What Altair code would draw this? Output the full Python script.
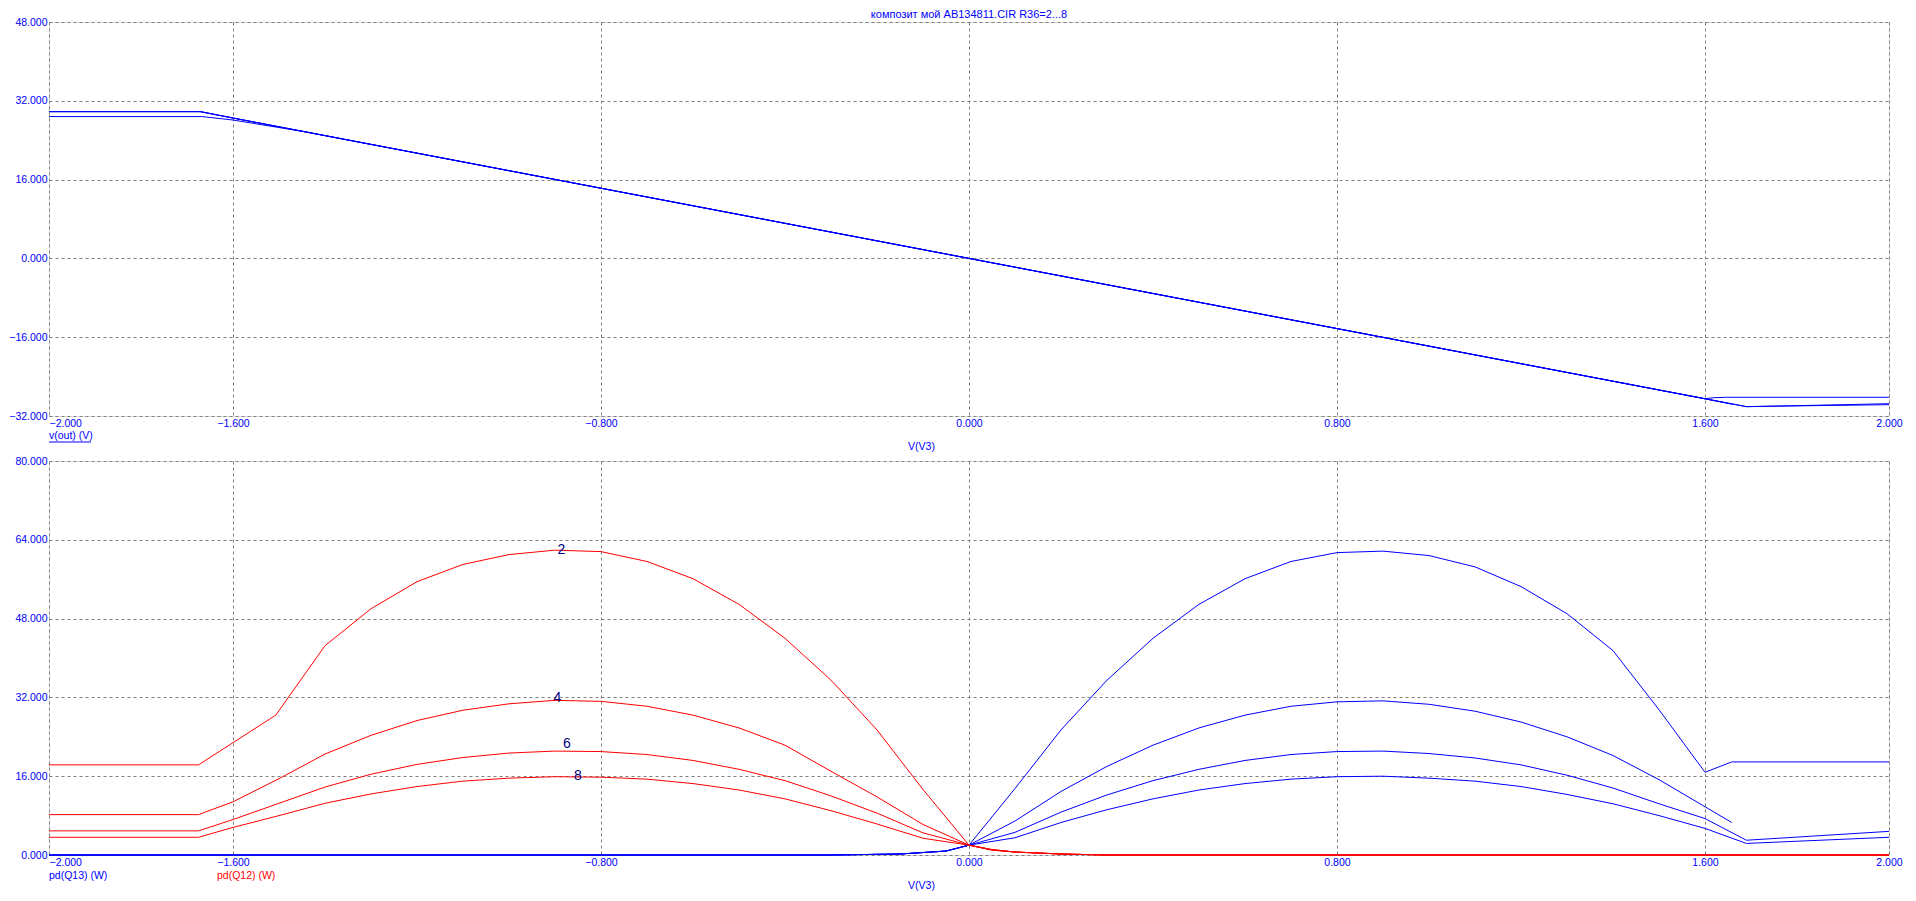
import altair as alt
import pandas as pd

BLUE = "#0000ff"
RED = "#ff0000"
NAVY = "#000080"
GRID = "#808080"
FONT = "Liberation Sans"
FS = 10.5

title_text = "композит мой AB134811.CIR R36=2...8"
x_ticks = [-2.0, -1.6, -0.8, 0.0, 0.8, 1.6, 2.0]
top_y_ticks = [-32, -16, 0, 16, 32, 48]
bot_y_ticks = [0, 16, 32, 48, 64, 80]

# ---- top panel: v(out) for R36 = 2, 4, 6, 8 ----
vout_v_2 = [-2.0, -1.668, -1.6, -1.45, 0.0, 1.6, 1.617, 1.645, 2.0]
vout_y_2 = [28.8, 28.8, 28.1, 25.8, 0.0, -28.5, -28.3, -28.2, -28.2]
vout_v_4 = [-2.0, -1.671, -1.6, 0.0, 1.6, 1.658]
vout_y_4 = [29.8, 29.8, 28.5, 0.0, -28.5, -29.6]
vout_v_6 = [-2.0, -1.671, -1.6, 0.0, 1.6, 1.69, 1.75, 2.0]
vout_y_6 = [29.8, 29.8, 28.5, 0.0, -28.5, -30.1, -30.0, -29.5]
vout_v_8 = [-2.0, -1.671, -1.6, 0.0, 1.6, 1.69, 1.75, 2.0]
vout_y_8 = [29.8, 29.8, 28.5, 0.0, -28.5, -30.1, -30.0, -29.7]

# ---- bottom panel: pd(Q12) (red) ----
q12_v_2 = [-2.0, -1.675, -1.507, -1.4, -1.3, -1.2, -1.1, -1.0, -0.9, -0.8, -0.7, -0.6,
           -0.5, -0.4, -0.3, -0.2, -0.1, 0.0, 0.05, 0.1, 0.2, 0.3, 2.0]
q12_p_2 = [18.3, 18.3, 28.4, 42.5, 50.0, 55.5, 59.0, 61.0, 61.9, 61.6, 59.6, 56.1,
           50.9, 44.0, 35.5, 25.4, 13.3, 2.0, 1.0, 0.6, 0.2, 0.0, 0.0]
q12_v = [-2.0, -1.675, -1.6, -1.5, -1.4, -1.3, -1.2, -1.1, -1.0, -0.9, -0.8, -0.7,
         -0.6, -0.5, -0.4, -0.3, -0.2, -0.1, 0.0, 0.05, 0.1, 0.2, 0.3, 2.0]
q12_p_4 = [8.2, 8.2, 10.8, 15.5, 20.5, 24.3, 27.3, 29.4, 30.7, 31.4, 31.2, 30.2,
           28.4, 25.8, 22.3, 17.0, 11.8, 6.2, 2.0, 1.0, 0.6, 0.2, 0.0, 0.0]
q12_p_6 = [4.9, 4.9, 7.2, 10.5, 13.8, 16.4, 18.4, 19.8, 20.7, 21.1, 21.0, 20.4,
           19.2, 17.4, 15.1, 12.0, 8.5, 4.5, 2.0, 1.1, 0.6, 0.2, 0.0, 0.0]
q12_p_8 = [3.6, 3.6, 5.6, 8.0, 10.5, 12.4, 13.9, 15.0, 15.6, 15.9, 15.8, 15.4,
           14.5, 13.2, 11.4, 9.0, 6.3, 3.4, 2.0, 1.1, 0.6, 0.2, 0.0, 0.0]

# ---- bottom panel: pd(Q13) (blue) ----
q13_v_2 = [-2.0, -0.3, -0.15, -0.05, 0.0, 0.1, 0.2, 0.3, 0.4, 0.5, 0.6, 0.7, 0.8,
           0.9, 1.0, 1.1, 1.2, 1.3, 1.4, 1.5, 1.6, 1.658, 2.0]
q13_p_2 = [0.0, 0.0, 0.2, 0.8, 2.0, 13.5, 25.4, 35.5, 44.0, 50.9, 56.1, 59.6, 61.4,
           61.7, 60.8, 58.5, 54.5, 49.0, 41.5, 29.5, 16.8, 18.9, 18.9]
q13_v_4 = [-2.0, -0.3, -0.15, -0.05, 0.0, 0.1, 0.2, 0.3, 0.4, 0.5, 0.6, 0.7, 0.8,
           0.9, 1.0, 1.1, 1.2, 1.3, 1.4, 1.5, 1.6, 1.658]
q13_p_4 = [0.0, 0.0, 0.2, 0.8, 2.0, 6.9, 12.9, 18.0, 22.3, 25.8, 28.4, 30.2, 31.1,
           31.3, 30.6, 29.2, 27.0, 24.0, 20.2, 15.3, 9.8, 6.6]
q13_v_68 = [-2.0, -0.3, -0.15, -0.05, 0.0, 0.1, 0.2, 0.3, 0.4, 0.5, 0.6, 0.7, 0.8,
            0.9, 1.0, 1.1, 1.2, 1.3, 1.4, 1.5, 1.6, 1.69, 2.0]
q13_p_6 = [0.0, 0.0, 0.2, 0.8, 2.0, 4.6, 8.7, 12.2, 15.1, 17.4, 19.2, 20.4, 21.0,
           21.1, 20.6, 19.7, 18.3, 16.2, 13.6, 10.4, 7.4, 3.0, 4.8]
q13_p_8 = [0.0, 0.0, 0.2, 0.8, 2.0, 3.5, 6.6, 9.2, 11.4, 13.2, 14.5, 15.4, 15.9,
           16.0, 15.6, 15.0, 13.9, 12.3, 10.4, 8.0, 5.4, 2.35, 3.6]

# curve labels (R36 values) placed on the red curves
lab_text = ["2", "4", "6", "8"]
lab_v = [-0.886, -0.895, -0.874, -0.85]
lab_p = [62.0, 31.8, 22.5, 16.1]


def series(vs, ps, name):
    return pd.DataFrame({"V": vs, "P": ps, "s": name})


top_df = pd.concat([
    series(vout_v_2, vout_y_2, "2"), series(vout_v_4, vout_y_4, "4"),
    series(vout_v_6, vout_y_6, "6"), series(vout_v_8, vout_y_8, "8"),
])
red_df = pd.concat([
    series(q12_v_2, q12_p_2, "2"), series(q12_v, q12_p_4, "4"),
    series(q12_v, q12_p_6, "6"), series(q12_v, q12_p_8, "8"),
])
blue_df = pd.concat([
    series(q13_v_2, q13_p_2, "2"), series(q13_v_4, q13_p_4, "4"),
    series(q13_v_68, q13_p_6, "6"), series(q13_v_68, q13_p_8, "8"),
])
lab_df = pd.DataFrame({"V": lab_v, "P": lab_p, "t": lab_text})

W = 1840
H = 394

xscale = alt.Scale(domain=[-2, 2], nice=False, zero=False)


def xaxis():
    return alt.Axis(
        values=x_ticks, format=".3f", labelColor=BLUE, labelFont=FONT, labelFontSize=FS,
        labelPadding=2, labelFlush=False, labelOverlap=False,
        labelAlign={"condition": {"test": "datum.value <= -2", "value": "left"}, "value": "center"},
        ticks=False, domain=False, grid=True, gridColor=GRID, gridDash=[3, 3], gridOpacity=1,
        title="V(V3)", titleColor=BLUE, titleFont=FONT, titleFontSize=FS,
        titleFontWeight="normal", titleX=872, titlePadding=13,
    )


def yaxis(vals):
    return alt.Axis(
        values=vals, format=".3f", labelColor=BLUE, labelFont=FONT, labelFontSize=FS,
        labelPadding=2, labelFlush=False, labelOverlap=False,
        ticks=False, domain=False, grid=True, gridColor=GRID, gridDash=[3, 3], gridOpacity=1,
        title=None,
    )


top_lines = alt.Chart(top_df).mark_line(color=BLUE, strokeWidth=1).encode(
    x=alt.X("V:Q", scale=xscale, axis=xaxis()),
    y=alt.Y("P:Q", scale=alt.Scale(domain=[-32, 48], nice=False, zero=False), axis=yaxis(top_y_ticks)),
    detail="s:N",
)
title_df = pd.DataFrame({"t": [title_text]})
title_mark = alt.Chart(title_df).mark_text(
    align="center", baseline="middle", color=BLUE, font=FONT, fontSize=11
).encode(text="t:N", x=alt.value(W / 2), y=alt.value(-7))

top_note_df = pd.DataFrame({"t": ["v(out) (V)"]})
top_note = alt.Chart(top_note_df).mark_text(
    align="left", baseline="middle", color=BLUE, font=FONT, fontSize=FS
).encode(text="t:N", x=alt.value(0), y=alt.value(H + 20))
top_underline = alt.Chart(top_note_df).mark_rule(color=BLUE, strokeWidth=1).encode(
    x=alt.value(0), x2=alt.value(42), y=alt.value(H + 26)
)
top = alt.layer(top_lines, title_mark, top_note, top_underline).properties(width=W, height=H)

yb = alt.Scale(domain=[0, 80], nice=False, zero=False)
blue_lines = alt.Chart(blue_df).mark_line(color=BLUE, strokeWidth=1).encode(
    x=alt.X("V:Q", scale=xscale, axis=xaxis()),
    y=alt.Y("P:Q", scale=yb, axis=yaxis(bot_y_ticks)),
    detail="s:N",
)
red_lines = alt.Chart(red_df).mark_line(color=RED, strokeWidth=1).encode(
    x=alt.X("V:Q", scale=xscale),
    y=alt.Y("P:Q", scale=yb),
    detail="s:N",
)
labels = alt.Chart(lab_df).mark_text(
    color=NAVY, font=FONT, fontSize=14, baseline="middle", align="center"
).encode(x=alt.X("V:Q", scale=xscale), y=alt.Y("P:Q", scale=yb), text="t:N")

bot_note_df = pd.DataFrame({"t": ["pd(Q13) (W)", "pd(Q12) (W)"], "c": [BLUE, RED], "px": [0, 168]})
bot_note = alt.Chart(bot_note_df).mark_text(
    align="left", baseline="middle", font=FONT, fontSize=FS
).encode(
    text="t:N",
    x=alt.X("px:Q", scale=None),
    y=alt.value(H + 21),
    color=alt.Color("c:N", scale=None),
)
bottom = alt.layer(blue_lines, red_lines, labels, bot_note).properties(width=W, height=H)

chart = alt.vconcat(top, bottom, spacing=2).properties(
    padding={"left": 0, "top": 0, "right": 0, "bottom": 0},
).configure_view(stroke=GRID, strokeDash=[1, 1], strokeWidth=1).configure(background="white")

chart.save("out.html", embed_options={"renderer": "svg", "actions": False})
